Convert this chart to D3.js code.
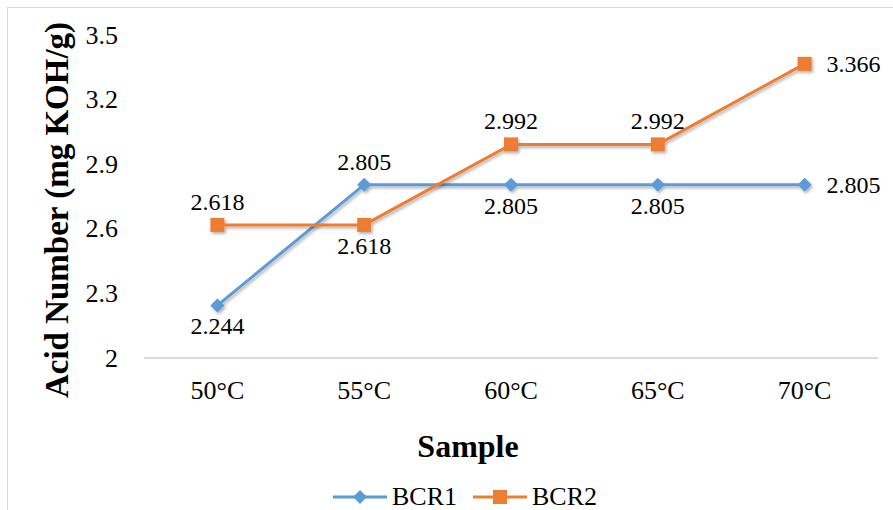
<!DOCTYPE html>
<html>
<head>
<meta charset="utf-8">
<script src="https://cdn.jsdelivr.net/npm/d3@7"></script>
<style>
  body { margin: 0; background: #fff; }
</style>
</head>
<body>
<div class="chart"></div>
<script>
'use strict'

const categories = ['50°C', '55°C', '60°C', '65°C', '70°C']
const bcr1 = [2.244, 2.805, 2.805, 2.805, 2.805]
const bcr2 = [2.618, 2.618, 2.992, 2.992, 3.366]
const yTicks = [2, 2.3, 2.6, 2.9, 3.2, 3.5]
// where each data label sits relative to its point
const bcr1Pos = ['below', 'above', 'below', 'below', 'right']
const bcr2Pos = ['above', 'below', 'above', 'above', 'right']

const width = 893
const height = 510
const margin = { left: 144, right: 15, top: 35, bottom: 152 }
const serif = "'Liberation Serif', 'Times New Roman', 'DejaVu Serif', serif"

const svg = d3.select('.chart').append('svg')
    .attr('width', width)
    .attr('height', height)
    .attr('font-family', serif)
    .style('font-family', serif)

// drop shadow like the office chart
const defs = svg.append('defs')
const f = defs.append('filter').attr('id', 'shadow')
    .attr('x', '-20%').attr('y', '-20%').attr('width', '140%').attr('height', '140%')
f.append('feDropShadow')
    .attr('dx', 1.5).attr('dy', 2).attr('stdDeviation', 1.5)
    .attr('flood-color', '#000').attr('flood-opacity', 0.3)

// outer frame
svg.append('rect')
    .attr('x', 7.5).attr('y', 7.5)
    .attr('width', width + 20).attr('height', height + 20)
    .style('fill', 'none').style('stroke', '#d9d9d9').style('stroke-width', 1)

const x = d3.scaleBand()
    .domain(categories)
    .range([margin.left, width - margin.right])

const y = d3.scaleLinear()
    .domain([2, 3.5])
    .range([height - margin.bottom, margin.top])

const cx = d => x(d) + x.bandwidth() / 2

// baseline
svg.append('line')
    .attr('x1', margin.left).attr('x2', width - margin.right)
    .attr('y1', y(2)).attr('y2', y(2))
    .style('stroke', '#d9d9d9').style('stroke-width', 2)

// y tick labels
svg.append('g').selectAll('text')
    .data(yTicks)
  .enter().append('text')
    .attr('x', 118)
    .attr('y', d => y(d))
    .attr('dy', '0.33em')
    .style('text-anchor', 'end')
    .style('font-size', '26px')
    .text(d => d)

// x tick labels
svg.append('g').selectAll('text')
    .data(categories)
  .enter().append('text')
    .attr('x', d => cx(d))
    .attr('y', y(2) + 41)
    .style('text-anchor', 'middle')
    .style('font-size', '26px')
    .text(d => d)

// axis titles
svg.append('text')
    .attr('transform', 'translate(68,' + 210 + ') rotate(-90)')
    .style('text-anchor', 'middle')
    .style('font-size', '33px')
    .style('font-weight', 'bold')
    .text('Acid Number (mg KOH/g)')

svg.append('text')
    .attr('x', 468)
    .attr('y', 457)
    .style('text-anchor', 'middle')
    .style('font-size', '32px')
    .style('font-weight', 'bold')
    .text('Sample')

const series = [
  { name: 'BCR1', values: bcr1, pos: bcr1Pos, color: '#5b9bd5', marker: 'diamond' },
  { name: 'BCR2', values: bcr2, pos: bcr2Pos, color: '#ed7d31', marker: 'square' }
]

const line = d3.line()
    .x((d, i) => cx(categories[i]))
    .y(d => y(d))

const markerPath = type => type === 'diamond'
    ? 'M0,-7L7,0L0,7L-7,0Z'
    : 'M-7,-7H7V7H-7Z'

series.forEach(s => {
  const g = svg.append('g').attr('filter', 'url(#shadow)')
  g.append('path')
      .datum(s.values)
      .attr('d', line)
      .style('fill', 'none')
      .style('stroke', s.color)
      .style('stroke-width', 3)

  g.selectAll('.pt')
      .data(s.values)
    .enter().append('path')
      .attr('class', 'pt')
      .attr('transform', (d, i) => 'translate(' + cx(categories[i]) + ',' + y(d) + ')')
      .attr('d', markerPath(s.marker))
      .style('fill', s.color)
})

// data labels
series.forEach(s => {
  svg.append('g').selectAll('text')
      .data(s.values)
    .enter().append('text')
      .attr('x', (d, i) => s.pos[i] === 'right' ? cx(categories[i]) + 22 : cx(categories[i]))
      .attr('y', (d, i) => {
        const py = y(d)
        if (s.pos[i] === 'above') return py - 23
        if (s.pos[i] === 'below') return py + 21
        return py
      })
      .attr('dy', '0.33em')
      .style('text-anchor', (d, i) => s.pos[i] === 'right' ? 'start' : 'middle')
      .style('font-size', '24px')
      .text(d => d3.format('.3f')(d))
})

// legend
const legend = svg.append('g').attr('transform', 'translate(333,' + 497 + ')')
series.forEach((s, i) => {
  const lg = legend.append('g').attr('transform', 'translate(' + (i * 140) + ',0)')
  lg.append('line')
      .attr('x1', 0).attr('x2', 54).attr('y1', 0).attr('y2', 0)
      .style('stroke', s.color).style('stroke-width', 3)
  lg.append('path')
      .attr('transform', 'translate(27,0)')
      .attr('d', markerPath(s.marker))
      .style('fill', s.color)
  lg.append('text')
      .attr('x', 59)
      .attr('y', 8)
      .style('font-size', '26px')
      .text(s.name)
})
</script>
</body>
</html>
